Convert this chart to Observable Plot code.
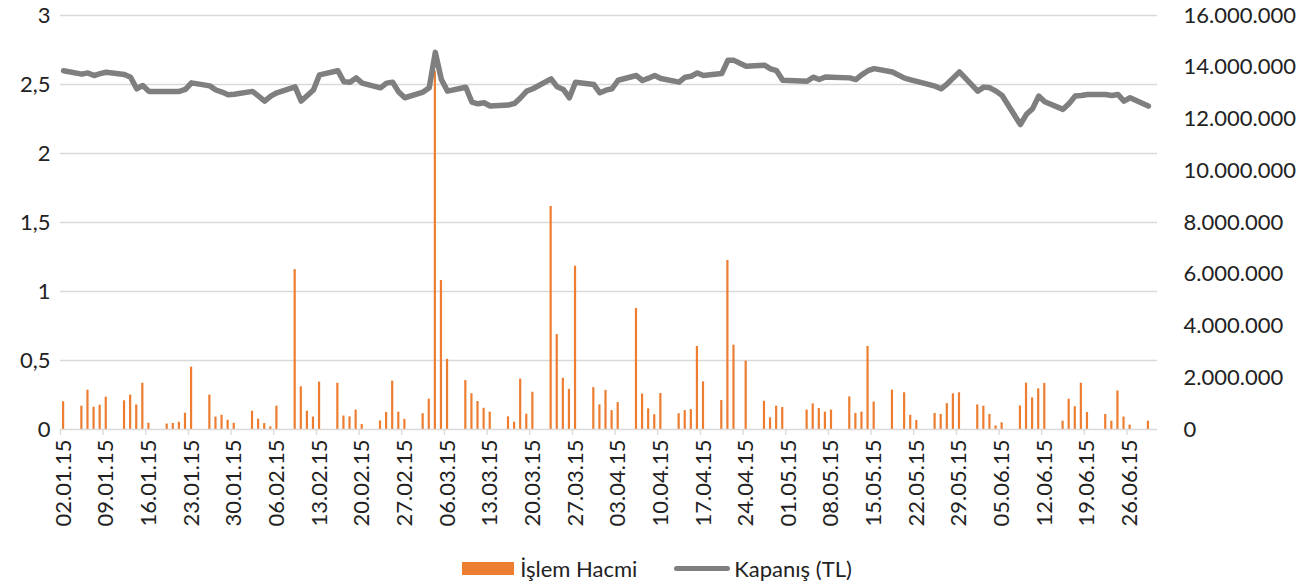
<!DOCTYPE html>
<html><head><meta charset="utf-8">
<script src="https://cdn.jsdelivr.net/npm/d3@7"></script>
<script src="https://cdn.jsdelivr.net/npm/@observablehq/plot@0.6"></script>
<style>
body{margin:0;background:#fff;font-family:Lato,sans-serif;}
#legend{display:flex;justify-content:center;align-items:center;height:36px;font-size:22px;color:#222;width:1314px;padding-left:0px;}
.sw1{display:inline-block;width:52px;height:13px;background:#ED7D31;margin-right:6px;}
.t1{margin-right:37px;}
.sw2{display:inline-block;width:56px;height:5px;background:#7F7F7F;border-radius:3px;margin-right:4px;}
</style></head><body>
<div id="chart"></div>
<div id="legend"><span class="sw1"></span><span class="t1">İşlem Hacmi</span><span class="sw2"></span><span>Kapanış (TL)</span></div>
<script>
const dates = ["2015-01-02","2015-01-05","2015-01-06","2015-01-07","2015-01-08","2015-01-09","2015-01-12","2015-01-13","2015-01-14","2015-01-15","2015-01-16","2015-01-19","2015-01-20","2015-01-21","2015-01-22","2015-01-23","2015-01-26","2015-01-27","2015-01-28","2015-01-29","2015-01-30","2015-02-02","2015-02-03","2015-02-04","2015-02-05","2015-02-06","2015-02-09","2015-02-10","2015-02-11","2015-02-12","2015-02-13","2015-02-16","2015-02-17","2015-02-18","2015-02-19","2015-02-20","2015-02-23","2015-02-24","2015-02-25","2015-02-26","2015-02-27","2015-03-02","2015-03-03","2015-03-04","2015-03-05","2015-03-06","2015-03-09","2015-03-10","2015-03-11","2015-03-12","2015-03-13","2015-03-16","2015-03-17","2015-03-18","2015-03-19","2015-03-20","2015-03-23","2015-03-24","2015-03-25","2015-03-26","2015-03-27","2015-03-30","2015-03-31","2015-04-01","2015-04-02","2015-04-03","2015-04-06","2015-04-07","2015-04-08","2015-04-09","2015-04-10","2015-04-13","2015-04-14","2015-04-15","2015-04-16","2015-04-17","2015-04-20","2015-04-21","2015-04-22","2015-04-24","2015-04-27","2015-04-28","2015-04-29","2015-04-30","2015-05-04","2015-05-05","2015-05-06","2015-05-07","2015-05-08","2015-05-11","2015-05-12","2015-05-13","2015-05-14","2015-05-15","2015-05-18","2015-05-20","2015-05-21","2015-05-22","2015-05-25","2015-05-26","2015-05-27","2015-05-28","2015-05-29","2015-06-01","2015-06-02","2015-06-03","2015-06-04","2015-06-05","2015-06-08","2015-06-09","2015-06-10","2015-06-11","2015-06-12","2015-06-15","2015-06-16","2015-06-17","2015-06-18","2015-06-19","2015-06-22","2015-06-23","2015-06-24","2015-06-25","2015-06-26","2015-06-29"];
const kapanis = [2.60,2.575,2.584,2.565,2.579,2.589,2.572,2.553,2.469,2.493,2.45,2.45,2.45,2.45,2.464,2.512,2.49,2.46,2.445,2.425,2.43,2.45,2.416,2.38,2.416,2.44,2.483,2.38,2.42,2.46,2.57,2.60,2.52,2.517,2.548,2.51,2.476,2.51,2.517,2.445,2.404,2.445,2.476,2.733,2.536,2.452,2.48,2.373,2.36,2.368,2.344,2.351,2.363,2.404,2.452,2.469,2.541,2.483,2.464,2.404,2.517,2.50,2.44,2.459,2.469,2.531,2.565,2.529,2.546,2.565,2.543,2.517,2.553,2.56,2.584,2.565,2.579,2.675,2.675,2.632,2.64,2.613,2.60,2.531,2.524,2.553,2.536,2.555,2.553,2.548,2.536,2.572,2.60,2.615,2.591,2.546,2.534,2.522,2.488,2.469,2.505,2.548,2.591,2.452,2.481,2.476,2.452,2.42,2.21,2.284,2.325,2.416,2.375,2.32,2.363,2.416,2.42,2.428,2.428,2.42,2.428,2.38,2.404,2.344];
const hacim = [1070000,900000,1520000,860000,940000,1250000,1110000,1330000,950000,1790000,240000,210000,230000,280000,630000,2410000,1330000,480000,550000,360000,240000,710000,400000,230000,100000,900000,6180000,1650000,710000,480000,1830000,1790000,520000,490000,750000,190000,330000,660000,1870000,670000,390000,610000,1170000,13850000,5760000,2710000,1890000,1380000,1080000,820000,670000,490000,280000,1950000,590000,1440000,8620000,3670000,1980000,1550000,6310000,1620000,950000,1510000,730000,1040000,4680000,1370000,800000,570000,1390000,610000,730000,770000,3210000,1840000,1120000,6530000,3260000,2640000,1090000,450000,900000,850000,750000,990000,810000,670000,750000,1260000,620000,670000,3210000,1060000,1520000,1420000,550000,350000,620000,580000,1000000,1380000,1420000,950000,900000,580000,140000,260000,910000,1790000,1220000,1570000,1780000,320000,1170000,880000,1790000,660000,580000,320000,1490000,480000,170000,320000];
const xTickLabels = ["02.01.15","09.01.15","16.01.15","23.01.15","30.01.15","06.02.15","13.02.15","20.02.15","27.02.15","06.03.15","13.03.15","20.03.15","27.03.15","03.04.15","10.04.15","17.04.15","24.04.15","01.05.15","08.05.15","15.05.15","22.05.15","29.05.15","05.06.15","12.06.15","19.06.15","26.06.15"];
const leftTicks = [0,0.5,1,1.5,2,2.5,3];
const rightTicks = [0,2000000,4000000,6000000,8000000,10000000,12000000,14000000,16000000];

const DAY = 864e5;
const parseTick = s => { const [d,m,y] = s.split(".").map(Number); return new Date(Date.UTC(2000+y, m-1, d)); };
const data = dates.map((s,i) => ({date: new Date(s + "T00:00:00Z"), k: kapanis[i], h: hacim[i]}));
const tickDates = xTickLabels.map(parseTick);
const labelOf = new Map(xTickLabels.map((s,i) => [+tickDates[i] + DAY/2, s]));
const rightMax = 16000000, leftMax = 3;
const toLeft = v => v * leftMax / rightMax;
const fmtDots = v => d3.format(",")(v).replace(/,/g, ".");

const chart = Plot.plot({
  width: 1314, height: 550,
  marginLeft: 60, marginRight: 157, marginTop: 15, marginBottom: 121,
  style: {fontFamily: "Lato, sans-serif", fontSize: "22px", color: "#222", background: "white"},
  x: {type: "utc", domain: [new Date(Date.UTC(2015,0,2)), new Date(Date.UTC(2015,6,1))], label: null},
  y: {domain: [0, 3], label: null},
  marks: [
    Plot.ruleY(leftTicks.filter(v => v > 0), {stroke: "#d9d9d9", strokeWidth: 1.3}),
    Plot.rectY(data, {x1: d => d.date, x2: d => new Date(+d.date + DAY), y1: 0, y2: d => toLeft(d.h), fill: "#ED7D31", insetLeft: 2, insetRight: 1.9}),
    Plot.ruleY([0], {stroke: "#d9d9d9", strokeWidth: 1.6}),
    Plot.axisX(tickDates, {tickSize: 6, tickFormat: () => "", stroke: "#d9d9d9", strokeWidth: 1.3}),
    Plot.axisX(tickDates.map(d => new Date(+d + DAY/2)), {tickSize: 0, tickPadding: 10, tickRotate: -90, tickFormat: d => labelOf.get(+d), fill: "#222"}),
    Plot.axisY(leftTicks, {anchor: "left", tickSize: 0, tickPadding: 10, tickFormat: v => String(v).replace(".", ","), fill: "#222"}),
    Plot.axisY(rightTicks.map(toLeft), {anchor: "right", tickSize: 0, tickPadding: 26, tickFormat: v => fmtDots(Math.round(v * rightMax / leftMax)), fill: "#222"}),
    Plot.line(data, {x: d => new Date(+d.date + DAY/2), y: "k", stroke: "#7F7F7F", strokeWidth: 5.5, strokeLinejoin: "round", strokeLinecap: "round"})
  ]
});
document.getElementById("chart").appendChild(chart);
</script>
</body></html>
